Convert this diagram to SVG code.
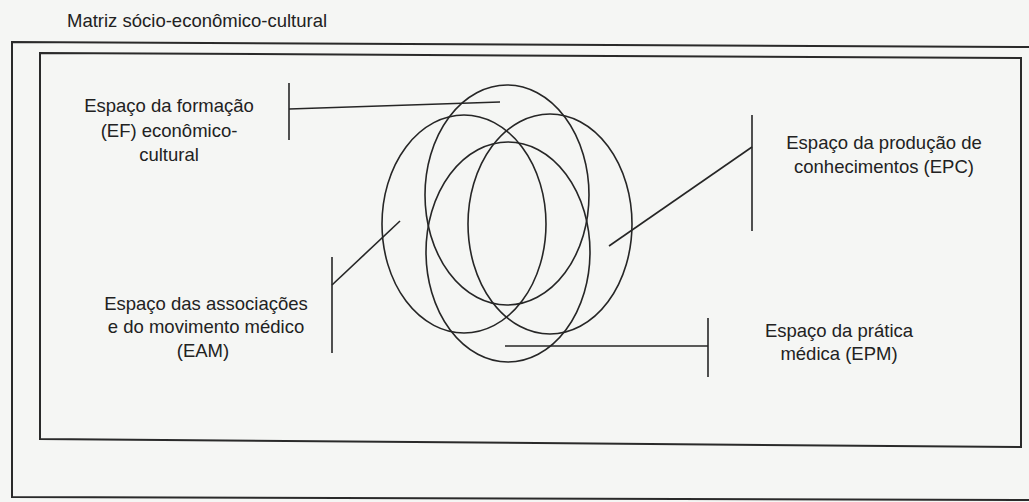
<svg xmlns="http://www.w3.org/2000/svg" width="1029" height="502" viewBox="0 0 1029 502">
  <style>
    .bg { fill: #f5f6f4; }
    .frame { fill: none; stroke: #2a2a2a; stroke-width: 2; stroke-linejoin: miter; }
    .ring { fill: none; stroke: #262626; stroke-width: 1.6; }
    .lead { fill: none; stroke: #262626; stroke-width: 1.6; }
    .lbl { font-family: "Liberation Sans", Arial, sans-serif; font-size: 18.5px; fill: #222; text-anchor: middle; }
    .title { font-family: "Liberation Sans", Arial, sans-serif; font-size: 18.5px; fill: #222; }
  </style>
  <rect class="bg" x="0" y="0" width="1029" height="502"/>

  <g id="title">
    <text class="title" x="67" y="27">Matriz sócio-econômico-cultural</text>
  </g>

  <g id="frames">
    <polyline class="frame" points="1029,47 12,42 12,497 1029,500"/>
    <polygon class="frame" points="40,53 1021,58 1021,447 40,439"/>
  </g>

  <g id="node-ef">
    <ellipse class="ring" cx="507" cy="195" rx="82" ry="110"/>
    <text class="lbl" x="169" y="112">Espaço da formação</text>
    <text class="lbl" x="169" y="137">(EF) econômico-</text>
    <text class="lbl" x="169" y="161">cultural</text>
  </g>

  <g id="node-eam">
    <ellipse class="ring" cx="464" cy="224" rx="82" ry="109"/>
    <text class="lbl" x="206" y="310">Espaço das associações</text>
    <text class="lbl" x="206" y="333">e do movimento médico</text>
    <text class="lbl" x="203" y="357">(EAM)</text>
  </g>

  <g id="node-epc">
    <ellipse class="ring" cx="550" cy="224" rx="82" ry="110"/>
    <text class="lbl" x="884" y="149">Espaço da produção de</text>
    <text class="lbl" x="884" y="173">conhecimentos (EPC)</text>
  </g>

  <g id="node-epm">
    <ellipse class="ring" cx="508" cy="252" rx="82" ry="110"/>
    <text class="lbl" x="839" y="337">Espaço da prática</text>
    <text class="lbl" x="839" y="360">médica (EPM)</text>
  </g>

  <g id="connectors">
    <line class="lead" x1="289" y1="83" x2="289" y2="140"/>
    <line class="lead" x1="289" y1="109" x2="500" y2="102"/>

    <line class="lead" x1="752" y1="115" x2="752" y2="231"/>
    <line class="lead" x1="752" y1="147" x2="609" y2="246"/>

    <line class="lead" x1="332" y1="257" x2="332" y2="353"/>
    <line class="lead" x1="332" y1="285" x2="400" y2="221"/>

    <line class="lead" x1="708" y1="318" x2="708" y2="377"/>
    <line class="lead" x1="505" y1="346" x2="708" y2="346"/>
  </g>
</svg>
